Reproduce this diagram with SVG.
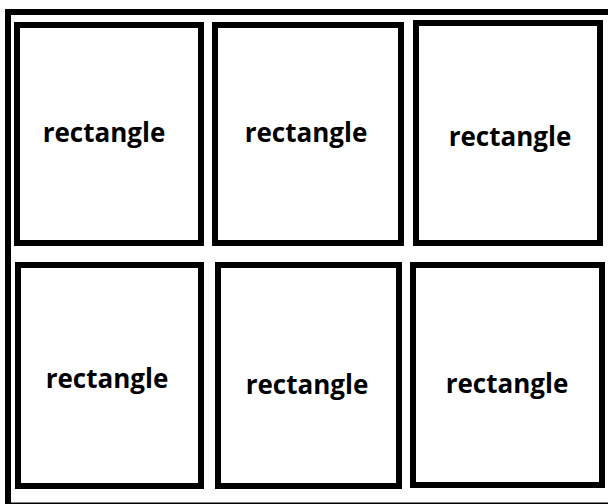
<svg xmlns="http://www.w3.org/2000/svg" width="608" height="504" viewBox="0 0 608 504">
<style>
.frame{fill:none;stroke:#000;stroke-width:6}
.box{fill:#fff;stroke:#000;stroke-width:6}
.lbl{font-family:"Open Sans","Liberation Sans",sans-serif;font-weight:bold;font-size:26px;fill:#000;text-anchor:middle}
</style>
<rect width="608" height="504" fill="#fff"/>
<g id="frame"><rect class="frame" x="8" y="12" width="603" height="493.5"/></g>
<g id="r1"><rect class="box" x="17" y="25" width="184" height="218"/><text class="lbl" x="104" y="142">rectangle</text></g>
<g id="r2"><rect class="box" x="215" y="25" width="186" height="218"/><text class="lbl" x="306" y="142">rectangle</text></g>
<g id="r3"><rect class="box" x="416" y="23" width="184" height="220"/><text class="lbl" x="510" y="146">rectangle</text></g>
<g id="r4"><rect class="box" x="18" y="265" width="183" height="221"/><text class="lbl" x="107" y="388">rectangle</text></g>
<g id="r5"><rect class="box" x="218" y="265" width="181" height="221"/><text class="lbl" x="307" y="394">rectangle</text></g>
<g id="r6"><rect class="box" x="413" y="265" width="189" height="220"/><text class="lbl" x="507" y="393">rectangle</text></g>
<g id="connectors"></g>
</svg>
